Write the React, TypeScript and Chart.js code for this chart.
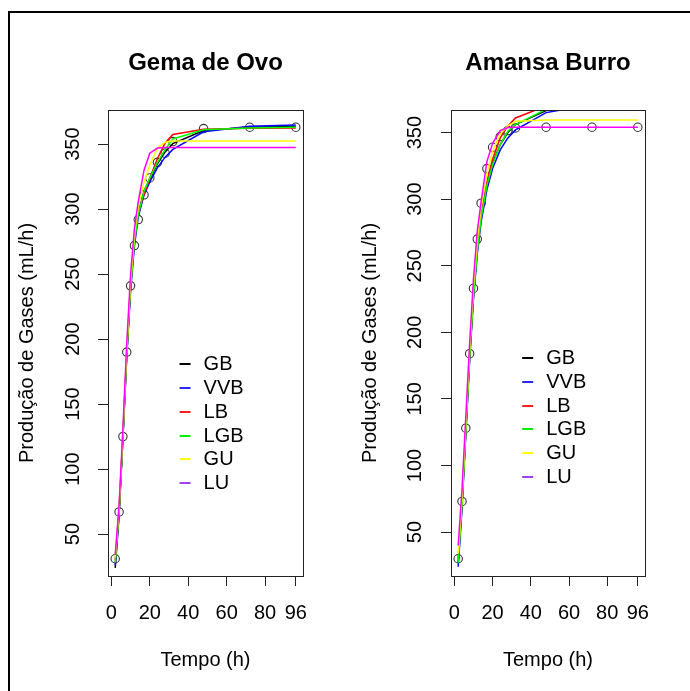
import React, { useEffect, useRef } from 'react';
import { Chart, registerables } from 'chart.js';

Chart.register(...registerables);

// ---------- data ----------
const TIMES = [2, 4, 6, 8, 10, 12, 14, 17, 20, 24, 28, 32, 48, 72, 96];
const X_TICKS = [0, 20, 40, 60, 80, 96];
const Y_TICKS = [50, 100, 150, 200, 250, 300, 350];
const SERIES_NAMES = ['GB', 'VVB', 'LB', 'LGB', 'GU', 'LU'];

// Gema de Ovo
const GEMA_OBS = [31, 67, 125, 190, 241, 272, 292, 311, 324, 336, 343, 352, 362, 363, 363];
const GEMA_GB = [24, 64, 124, 188, 240, 275, 297, 314, 323, 335, 344, 350.5, 360.5, 363, 363.5];
const GEMA_VVB = [26, 66, 124, 186, 237, 272, 294, 311, 321, 332, 340, 346, 359.5, 363.8, 364.8];
const GEMA_LB = [30, 68, 126, 190, 241, 276, 298, 311, 324, 339, 351, 357.5, 361.5, 362.3, 362.5];
const GEMA_LGB = [28, 67, 125, 189, 240, 275, 296, 314, 324, 336, 346, 354, 361, 362.5, 363];
const GEMA_GU = [32, 70, 128, 193, 245, 281, 302, 321, 334, 347, 351.5, 352.5, 352.5, 352.5, 352.5];
const GEMA_LU = [34, 72, 131, 197, 250, 285, 306, 330, 343, 347, 347.5, 347.5, 347.5, 347.5, 347.5];

// Amansa Burro
const AMANSA_OBS = [30, 73, 128, 184, 233, 270, 297, 323, 339, 347, 351.5, 353.5, 354, 354, 354];
const AMANSA_GB = [27, 70, 126, 182, 228, 263, 287, 311, 327, 341, 350, 356, 366.5, 372, 373];
const AMANSA_VVB = [24, 68, 124, 179, 225, 259, 283, 307, 323, 337, 346, 352, 365, 371, 373];
const AMANSA_LB = [30, 72, 127, 182, 228, 263, 288, 313, 330, 346, 355, 361, 370, 373, 373.5];
const AMANSA_LGB = [27, 70, 125, 181, 227, 261, 286, 310, 326, 341, 351, 356, 367.5, 372, 373];
const AMANSA_GU = [34, 76, 132, 188, 235, 270, 294, 319, 336, 349, 355, 358.5, 359.5, 359.5, 359.5];
const AMANSA_LU = [40, 82, 137, 192, 240, 276, 298, 328, 342, 351.5, 353.8, 354, 354, 354, 354];

// ---------- styles ----------
const FONT = '"Liberation Sans", Arial, Helvetica, sans-serif';
const LINE_COLORS = ['#000000', '#0000ff', '#ff0000', '#00ff00', '#ffff00', '#ff00ff'];
const LEGEND_COLORS = ['#000000', '#2a2aff', '#ff2020', '#00ee00', '#ffff00', '#a040f0'];

type Panel = {
  title: string;
  obs: number[];
  fits: number[][];
  left: number;
  width: number;
  padRight: number;
  yAxisWidth: number;
  yTitlePad: number;
  yTickPad: number;
};

const PANELS: Panel[] = [
  {
    title: 'Gema de Ovo',
    obs: GEMA_OBS,
    fits: [GEMA_GB, GEMA_VVB, GEMA_LB, GEMA_LGB, GEMA_GU, GEMA_LU],
    left: 0,
    width: 345,
    padRight: 42,
    yAxisWidth: 108,
    yTitlePad: 15.5,
    yTickPad: 8,
  },
  {
    title: 'Amansa Burro',
    obs: AMANSA_OBS,
    fits: [AMANSA_GB, AMANSA_VVB, AMANSA_LB, AMANSA_LGB, AMANSA_GU, AMANSA_LU],
    left: 345,
    width: 345,
    padRight: 45,
    yAxisWidth: 106,
    yTitlePad: 13,
    yTickPad: 9,
  },
];

const HEIGHT = 691;

// R-like 4% axis extension
function extendRange(vals: number[]): [number, number] {
  const mn = Math.min(...vals);
  const mx = Math.max(...vals);
  const d = (mx - mn) * 0.04;
  return [mn - d, mx + d];
}

const alignPx = (v: number) => Math.round(v - 0.5) + 0.5;

const boxPlugin = {
  id: 'rbox',
  afterDraw(chart: any) {
    const { ctx, chartArea } = chart;
    const l = alignPx(chartArea.left);
    const t = alignPx(chartArea.top);
    const r = alignPx(chartArea.right);
    const b = alignPx(chartArea.bottom);
    ctx.save();
    ctx.strokeStyle = '#222';
    ctx.lineWidth = 1;
    ctx.strokeRect(l, t, r - l, b - t);
    ctx.restore();
  },
};

const legendPlugin = {
  id: 'rlegend',
  afterDraw(chart: any, _args: any, opts: any) {
    const { ctx, scales } = chart;
    const x0 = scales.x.getPixelForValue(opts.xValue);
    const y0 = scales.y.getPixelForValue(opts.yValue);
    ctx.save();
    ctx.font = `20px ${FONT}`;
    ctx.textBaseline = 'middle';
    ctx.textAlign = 'left';
    opts.labels.forEach((label: string, i: number) => {
      const yy = Math.round(y0 + i * opts.rowGap);
      ctx.strokeStyle = opts.colors[i];
      ctx.lineWidth = 2;
      ctx.beginPath();
      ctx.moveTo(x0, yy);
      ctx.lineTo(x0 + 11, yy);
      ctx.stroke();
      ctx.fillStyle = '#000';
      ctx.fillText(label, x0 + 24, yy);
    });
    ctx.restore();
  },
};

function makeConfig(p: Panel): any {
  const [xMin, xMax] = extendRange(TIMES);
  const [yMin, yMax] = extendRange(p.obs);
  const lineSets = p.fits.map((vals, i) => ({
    label: SERIES_NAMES[i],
    data: TIMES.map((t, k) => ({ x: t, y: vals[k] })),
    showLine: true,
    borderColor: LINE_COLORS[i],
    backgroundColor: LINE_COLORS[i],
    borderWidth: 1.5,
    pointRadius: 0,
    tension: 0,
    order: 6 - i,
    clip: 0,
  }));
  const obsSet = {
    label: 'Observado',
    data: TIMES.map((t, k) => ({ x: t, y: p.obs[k] })),
    showLine: false,
    pointStyle: 'circle',
    pointRadius: 4.2,
    borderColor: '#333',
    backgroundColor: 'rgba(0,0,0,0)',
    borderWidth: 1.1,
    order: 10,
    clip: 0,
  };
  return {
    type: 'scatter',
    data: { datasets: [obsSet, ...lineSets] },
    plugins: [boxPlugin, legendPlugin],
    options: {
      animation: false,
      responsive: false,
      devicePixelRatio: 1,
      events: [],
      layout: { padding: { left: 0, right: p.padRight, top: 0, bottom: 0 } },
      plugins: {
        legend: { display: false },
        tooltip: { enabled: false },
        title: {
          display: true,
          text: p.title,
          fullSize: false,
          color: '#000',
          font: { family: FONT, size: 24, weight: 'bold' },
          padding: { top: 49, bottom: 32.2 },
        },
        rlegend: {
          xValue: 35.5,
          yValue: 180.5,
          rowGap: 23.7,
          labels: SERIES_NAMES,
          colors: LEGEND_COLORS,
        },
      },
      scales: {
        x: {
          type: 'linear',
          min: xMin,
          max: xMax,
          afterBuildTicks: (s: any) => {
            s.ticks = X_TICKS.map((v) => ({ value: v }));
          },
          afterFit: (s: any) => {
            s.height = 115;
          },
          ticks: {
            autoSkip: false,
            maxRotation: 0,
            minRotation: 0,
            padding: 15,
            color: '#000',
            font: { family: FONT, size: 20 },
            callback: (v: any) => String(v),
          },
          grid: { drawOnChartArea: false, drawTicks: true, tickLength: 10, color: '#222', tickColor: '#222' },
          border: { display: true, color: '#222', width: 1 },
          title: {
            display: true,
            text: 'Tempo (h)',
            color: '#000',
            font: { family: FONT, size: 20 },
            padding: { top: 0, bottom: 19 },
          },
        },
        y: {
          type: 'linear',
          min: yMin,
          max: yMax,
          afterBuildTicks: (s: any) => {
            s.ticks = Y_TICKS.map((v) => ({ value: v }));
          },
          afterFit: (s: any) => {
            s.width = p.yAxisWidth;
          },
          ticks: {
            minRotation: 90,
            maxRotation: 90,
            crossAlign: 'center',
            padding: p.yTickPad,
            color: '#000',
            font: { family: FONT, size: 20 },
            callback: (v: any) => String(v),
          },
          grid: { drawOnChartArea: false, drawTicks: true, tickLength: 10, color: '#222', tickColor: '#222' },
          border: { display: true, color: '#222', width: 1 },
          title: {
            display: true,
            text: 'Produção de Gases (mL/h)',
            color: '#000',
            font: { family: FONT, size: 20 },
            padding: { top: p.yTitlePad, bottom: 0 },
          },
        },
      },
    },
  };
}

export default function App() {
  const leftRef = useRef<HTMLCanvasElement>(null);
  const rightRef = useRef<HTMLCanvasElement>(null);

  useEffect(() => {
    const refs = [leftRef, rightRef];
    const charts = PANELS.map((p, i) => new Chart(refs[i].current as HTMLCanvasElement, makeConfig(p)));
    return () => charts.forEach((c) => c.destroy());
  }, []);

  return (
    <div
      style={{
        position: 'fixed',
        left: 0,
        top: 0,
        width: 690,
        height: HEIGHT,
        background: '#fff',
        overflow: 'hidden',
      }}
    >
      {PANELS.map((p, i) => (
        <canvas
          key={p.title}
          ref={i === 0 ? leftRef : rightRef}
          width={p.width}
          height={HEIGHT}
          style={{ position: 'absolute', left: p.left, top: 0, width: p.width, height: HEIGHT }}
        />
      ))}
      <div
        style={{
          position: 'absolute',
          left: 8,
          top: 11,
          width: 800,
          height: 800,
          border: '2px solid #000',
          boxSizing: 'border-box',
          pointerEvents: 'none',
        }}
      />
    </div>
  );
}
